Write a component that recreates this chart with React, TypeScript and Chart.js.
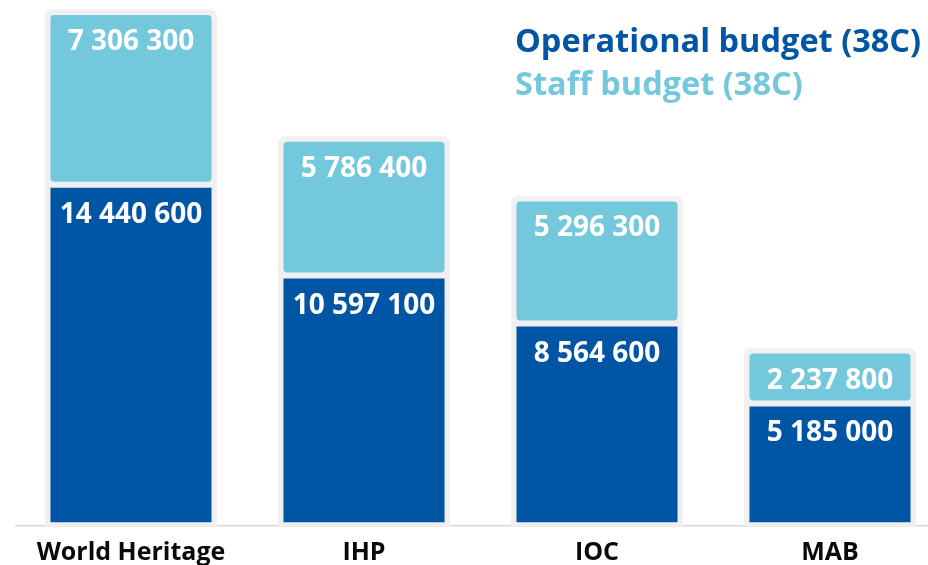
import React, { useEffect, useRef } from "react";
import { Chart, registerables } from "chart.js";

Chart.register(...registerables);

const categories = ["World Heritage", "IHP", "IOC", "MAB"];
const operational = [14440600, 10597100, 8564600, 5185000];
const staff = [7306300, 5786400, 5296300, 2237800];
const seriesNames = ["Operational budget (38C)", "Staff budget (38C)"];

const DARK = "#0055a4";
const LIGHT = "#74c8dc";
const COLBG = "#f0f0f0";
const FONT = "'Open Sans', 'DejaVu Sans', sans-serif";

const fmt = (v: number) => String(v).replace(/\B(?=(\d{3})+(?!\d))/g, " ");

const columnBg = {
  id: "columnBg",
  beforeDatasetsDraw(chart: any) {
    const ctx = chart.ctx;
    const top = chart.getDatasetMeta(1);
    const base = chart.scales.y.getPixelForValue(0);
    ctx.save();
    ctx.fillStyle = COLBG;
    top.data.forEach((bar: any) => {
      const w = bar.width + 5;
      const x0 = bar.x - w / 2;
      const y0 = bar.y - 2.5;
      ctx.beginPath();
      ctx.roundRect(x0, y0, w, base - y0, [7, 7, 0, 0]);
      ctx.fill();
    });
    ctx.restore();
  },
};

const valueLabels = {
  id: "valueLabels",
  afterDatasetsDraw(chart: any) {
    const ctx = chart.ctx;
    ctx.save();
    ctx.fillStyle = "#ffffff";
    ctx.font = `bold 28px ${FONT}`;
    ctx.textAlign = "center";
    ctx.textBaseline = "alphabetic";
    chart.data.datasets.forEach((ds: any, di: number) => {
      const meta = chart.getDatasetMeta(di);
      meta.data.forEach((bar: any, i: number) => {
        ctx.fillText(fmt(ds.data[i]), bar.x, bar.y + 38);
      });
    });
    ctx.restore();
  },
};

const legendText = {
  id: "legendText",
  afterDraw(chart: any) {
    const ctx = chart.ctx;
    ctx.save();
    ctx.font = `bold 32.5px ${FONT}`;
    ctx.textAlign = "left";
    ctx.textBaseline = "alphabetic";
    chart.data.datasets.forEach((ds: any, di: number) => {
      ctx.fillStyle = ds.backgroundColor;
      ctx.fillText(ds.label, 515, 52 + di * 43);
    });
    ctx.restore();
  },
};

export default function App() {
  const ref = useRef<HTMLCanvasElement | null>(null);
  useEffect(() => {
    if (!ref.current) return;
    const chart = new Chart(ref.current, {
      type: "bar",
      data: {
        labels: categories,
        datasets: [
          {
            label: seriesNames[0],
            data: operational,
            backgroundColor: DARK,
            borderColor: COLBG,
            borderWidth: 3,
            borderSkipped: false,
            borderRadius: 7,
          },
          {
            label: seriesNames[1],
            data: staff,
            backgroundColor: LIGHT,
            borderColor: COLBG,
            borderWidth: 3,
            borderSkipped: false,
            borderRadius: 7,
          },
        ],
      },
      options: {
        responsive: false,
        animation: false,
        events: [],
        layout: { padding: { left: 14.5, right: 3.5, top: 6, bottom: 0 } },
        datasets: { bar: { barPercentage: 1, categoryPercentage: 0.717 } },
        plugins: { legend: { display: false }, tooltip: { enabled: false } },
        scales: {
          x: {
            stacked: true,
            grid: { display: false, drawTicks: false },
            border: { display: false },
            ticks: {
              color: "#0a0a0a",
              padding: 12,
              font: { family: FONT, size: 25, weight: "bold" },
            },
            afterFit: (axis: any) => {
              axis.height = 54;
            },
          },
          y: {
            stacked: true,
            min: 0,
            max: 22000000,
            grid: {
              drawTicks: false,
              lineWidth: 1.5,
              color: (c: any) => {
                const v = c.tick ? c.tick.value : 0;
                if (v === 0) return "#d8d8d8";
                return v % 5000000 === 0 ? "#ececec" : "rgba(0,0,0,0)";
              },
            },
            border: { display: false },
            ticks: { display: false, stepSize: 5000000 },
            afterFit: (axis: any) => {
              axis.width = 0;
            },
          },
        },
      },
      plugins: [columnBg, valueLabels, legendText],
    } as any);
    return () => chart.destroy();
  }, []);
  return (
    <div
      style={{
        position: "fixed",
        left: 0,
        top: 0,
        width: 928,
        height: 565,
        overflow: "hidden",
        background: "#ffffff",
      }}
    >
      <canvas ref={ref} width={950} height={580} style={{ display: "block" }} />
    </div>
  );
}
